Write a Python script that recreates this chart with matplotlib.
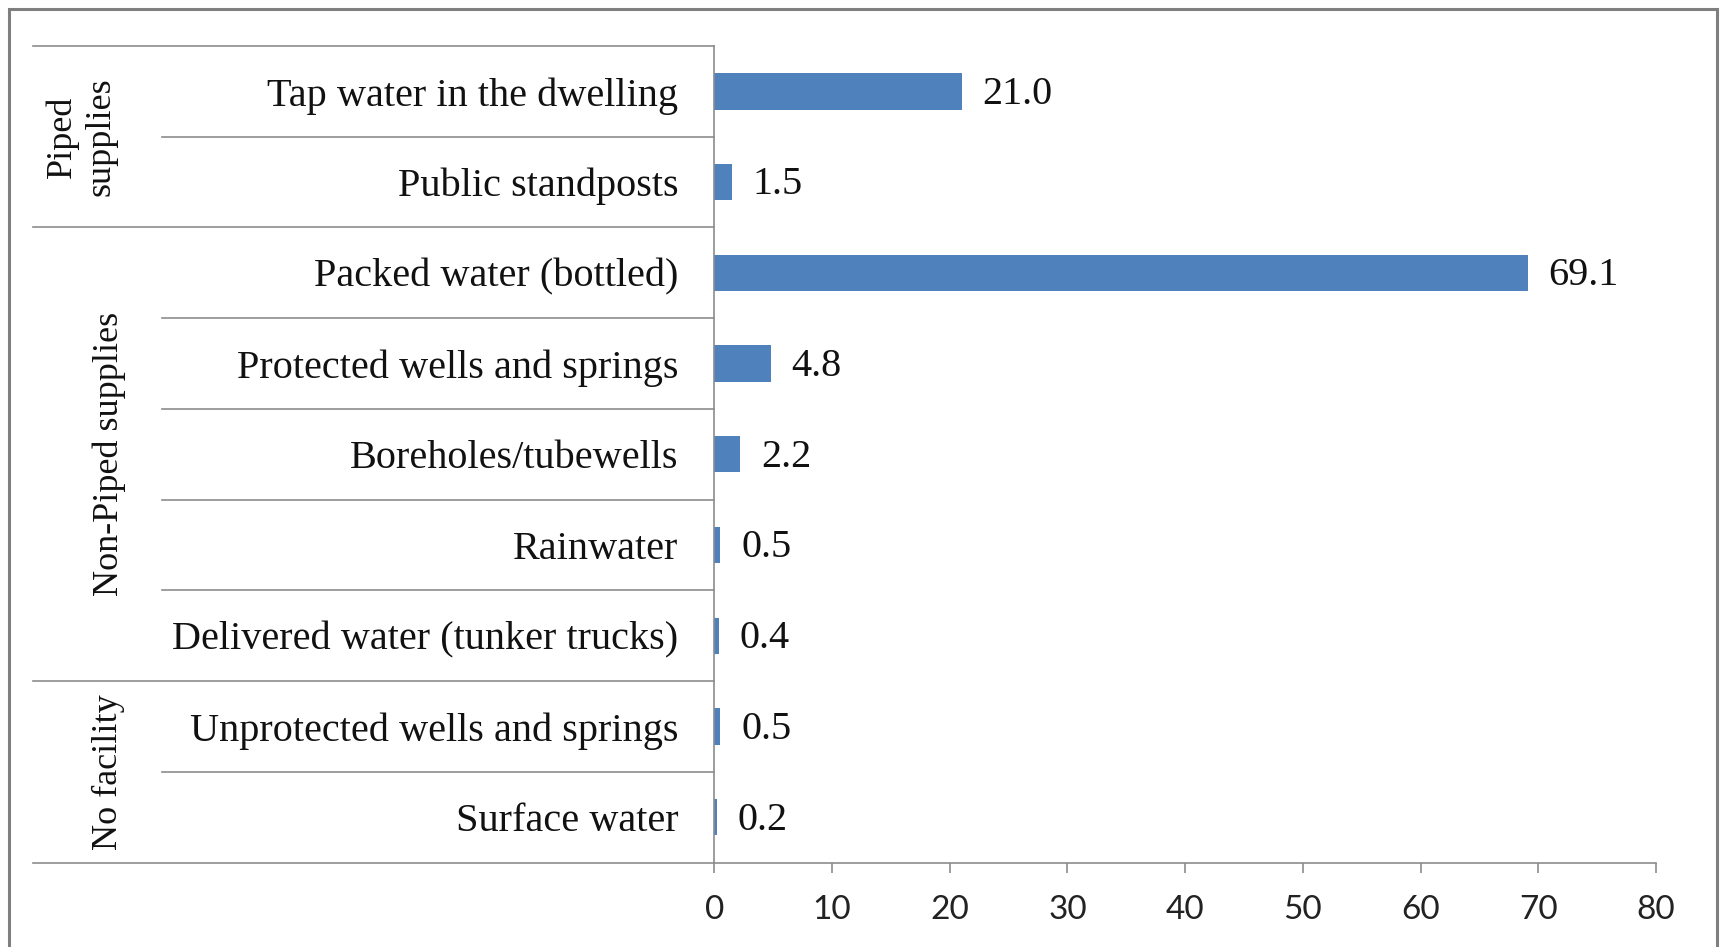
import matplotlib.pyplot as plt
import matplotlib.transforms as mtransforms
from matplotlib.patches import Rectangle

# data
categories = [
    "Tap water in the dwelling",
    "Public standposts",
    "Packed water (bottled)",
    "Protected wells and springs",
    "Boreholes/tubewells",
    "Rainwater",
    "Delivered water (tunker trucks)",
    "Unprotected wells and springs",
    "Surface water",
]
values = [21.0, 1.5, 69.1, 4.8, 2.2, 0.5, 0.4, 0.5, 0.2]
group_names = ["Piped\nsupplies", "Non-Piped supplies", "No facility"]
group_sizes = [2, 5, 2]
x_ticks = [0, 10, 20, 30, 40, 50, 60, 70, 80]

BAR_COLOR = "#4F81BD"
LINE_COLOR = "#8c8c8c"
SERIF = ["Liberation Serif", "DejaVu Serif"]

fig = plt.figure(figsize=(17.23, 9.47), dpi=100)
ax = fig.add_axes([0.4146, 0.0891, 0.5465, 0.8623])

y = list(range(len(categories)))
bars = ax.barh(y, values, height=0.4, color=BAR_COLOR)
# value labels to the right of each bar
for yi, v in zip(y, values):
    ax.annotate(f"{v:.1f}", xy=(v, yi), xytext=(15, -2), textcoords="offset points",
                ha="left", va="center", fontsize=29, family=SERIF, color="#111111")

ax.set_ylim(len(categories) - 0.5, -0.5)
ax.set_xlim(0, 80)
ax.set_xticks(x_ticks)
ax.set_xticklabels([str(t) for t in x_ticks], fontsize=24, family="Lato", color="#222222")
ax.tick_params(axis="x", direction="out", length=7, width=1.2, color=LINE_COLOR, pad=16)

ax.set_yticks(y)
ax.set_yticklabels(categories, fontsize=29, family=SERIF, color="#111111")
ax.tick_params(axis="y", length=0, pad=26)

for side in ["top", "right"]:
    ax.spines[side].set_visible(False)
for side in ["left", "bottom"]:
    ax.spines[side].set_color(LINE_COLOR)
    ax.spines[side].set_linewidth(1.2)

# category table lines on the left
trans = mtransforms.blended_transform_factory(ax.transAxes, ax.transData)
table_left = -0.7235
inner_left = -0.587
ax.plot([table_left, 0], [-0.5, -0.5], color=LINE_COLOR, lw=1.2, transform=trans, clip_on=False)
ax.plot([table_left, 0], [len(categories) - 0.5] * 2, color=LINE_COLOR, lw=1.2,
        transform=trans, clip_on=False)

start = 0
for name, size in zip(group_names, group_sizes):
    end = start + size
    for b in range(start, end - 1):
        ax.plot([inner_left, 0], [b + 0.5, b + 0.5], color=LINE_COLOR, lw=1.2,
                transform=trans, clip_on=False)
    if end < len(categories):
        ax.plot([table_left, 0], [end - 0.5, end - 0.5], color=LINE_COLOR, lw=1.2,
                transform=trans, clip_on=False)
    xpos = -0.672 if "\n" in name else -0.643
    ax.text(xpos, (start + end - 1) / 2, name, rotation=90, ha="center", va="center",
            fontsize=26, family=SERIF, color="#111111", transform=trans,
            multialignment="center", linespacing=1.25)
    start = end

# outer frame
fig.patches.append(Rectangle((9 / 1723, -0.05), (1717 - 9) / 1723, 1.05 - 9 / 947,
                             transform=fig.transFigure, fill=False,
                             edgecolor="#7f7f7f", lw=2.2))

fig.savefig("out.png", dpi=100)
